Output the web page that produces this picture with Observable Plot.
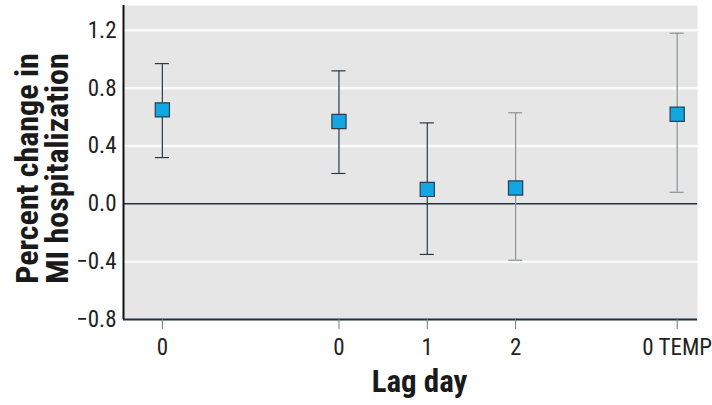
<!DOCTYPE html>
<html>
<head>
<meta charset="utf-8">
<script src="https://cdn.jsdelivr.net/npm/d3@7"></script>
<script src="https://cdn.jsdelivr.net/npm/@observablehq/plot@0.6"></script>
<style>
  html, body { margin: 0; padding: 0; background: #fff; }
  #chart svg { display: block; }
</style>
</head>
<body>
<div id="chart"></div>
<script>
// Categories (lag day labels) and their position along the lag axis
const lagLabels = ["0", "0", "1", "2", "0 TEMP"];
const lagPos = [0, 2, 3, 4, 5.83];
// Estimates and 95% CI
const estimate = [0.65, 0.57, 0.10, 0.11, 0.62];
const lower = [0.32, 0.21, -0.35, -0.39, 0.08];
const upper = [0.97, 0.92, 0.56, 0.63, 1.18];
const yTicks = [-0.8, -0.4, 0.0, 0.4, 0.8, 1.2];

const data = lagLabels.map((l, i) => ({
  label: l, pos: lagPos[i], est: estimate[i], lo: lower[i], hi: upper[i], i
}));

const xDomain = [-0.44, 6.06];
const yDomain = [-0.8, 1.372];
const font = "'Liberation Sans Narrow', 'Roboto Condensed', 'DejaVu Sans Condensed', sans-serif";
const barColor = d => d.i < 3 ? "#2c3a42" : "#8c9297";
const capHalf = 0.08;

const chart = Plot.plot({
  width: 712,
  height: 405,
  marginLeft: 123,
  marginRight: 15,
  marginTop: 5,
  marginBottom: 86,
  style: { fontFamily: font, background: "#fff" },
  x: { type: "linear", domain: xDomain },
  y: { type: "linear", domain: yDomain },
  marks: [
    Plot.frame({ fill: "#e6e6e7", stroke: null }),
    Plot.ruleY(yTicks.filter(v => v !== 0 && v !== -0.8), { stroke: "#fafafa", strokeWidth: 2.5 }),
    Plot.ruleY([0], { stroke: "#1d3140", strokeWidth: 1.5 }),
    Plot.ruleY([-0.8], { stroke: "#1d3140", strokeWidth: 2 }),
    Plot.ruleX([xDomain[0]], { stroke: "#111", strokeWidth: 2 }),
    Plot.axisY({
      ticks: yTicks, tickSize: 0, tickPadding: 7, tickFormat: d3.format(".1f"),
      fontSize: 23, color: "#222", label: null
    }),
    Plot.axisX({
      ticks: lagPos, tickSize: 10, tickPadding: 9,
      tickFormat: (d) => lagLabels[lagPos.indexOf(d)],
      fontSize: 23, color: "#222", stroke: "#777", label: null
    }),
    Plot.ruleX(data, { x: "pos", y1: "lo", y2: "hi", stroke: barColor, strokeWidth: 1.2 }),
    Plot.ruleY(data, { y: "lo", x1: d => d.pos - capHalf, x2: d => d.pos + capHalf, stroke: barColor, strokeWidth: 1.2 }),
    Plot.ruleY(data, { y: "hi", x1: d => d.pos - capHalf, x2: d => d.pos + capHalf, stroke: barColor, strokeWidth: 1.2 }),
    Plot.dot(data, { x: "pos", y: "est", symbol: "square", r: 8, fill: "#12a6e3", stroke: "#26404f", strokeWidth: 1.2 }),
    Plot.text(["Percent change in\nMI hospitalization"], {
      frameAnchor: "left", textAnchor: "middle", rotate: -90, dx: -80, dy: 6, fontSize: 32, fontWeight: "bold",
      lineHeight: 0.95, fill: "#1a1a1a", fontFamily: font
    }),
    Plot.text(["Lag day"], {
      frameAnchor: "bottom", dx: 9, dy: 72, fontSize: 31, fontWeight: "bold",
      fill: "#1a1a1a", fontFamily: font
    })
  ]
});
document.getElementById("chart").appendChild(chart);
</script>
</body>
</html>
